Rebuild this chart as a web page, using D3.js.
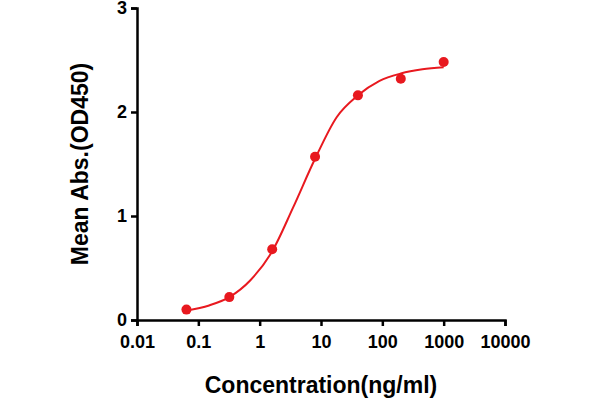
<!DOCTYPE html>
<html><head><meta charset="utf-8">
<script src="https://cdn.jsdelivr.net/npm/d3@7"></script>
<style>body{margin:0;background:#fff}</style></head>
<body><svg id="c" width="600" height="400"></svg>
<script>
const concentrations=[0.064,0.32,1.6,8,40,200,1000];
const absorbance=[0.10,0.22,0.68,1.57,2.16,2.32,2.48];
const curveX=[0.064,0.15,0.32,0.7,1.6,3.5,8,18,40,90,200,450,1000];
const curveY=[0.09,0.14,0.22,0.38,0.66,1.08,1.55,1.95,2.16,2.30,2.37,2.41,2.43];
const xTicks=[0.01,0.1,1,10,100,1000,10000];
const xTickLabels=["0.01","0.1","1","10","100","1000","10000"];
const yTicks=[0,1,2,3];
const svg=d3.select("#c");
const x=d3.scaleLog().domain([0.01,10000]).range([137,505]);
const y=d3.scaleLinear().domain([0,3]).range([320,8]);
const red="#e8191f";
const font="Liberation Sans, Arial, sans-serif";
const xa=svg.append("g").attr("transform","translate(0,320)")
 .call(d3.axisBottom(x).tickValues(xTicks).tickFormat((d,i)=>xTickLabels[i]).tickSize(6));
const ya=svg.append("g").attr("transform","translate(137,0)")
 .call(d3.axisLeft(y).tickValues(yTicks).tickFormat(d3.format("d")).tickSize(6));
[xa,ya].forEach(a=>{a.select(".domain").attr("stroke","#000").attr("stroke-width",2.5);
 a.selectAll(".tick line").attr("stroke","#000").attr("stroke-width",2.5);
 a.selectAll("text").attr("font-family",font).attr("font-size",18).attr("font-weight","bold").attr("fill","#000");});
xa.selectAll("text").attr("dy","1.05em");
ya.selectAll("text").attr("dx","-0.05em");
svg.append("path").datum(curveX.map((d,i)=>[d,curveY[i]]))
 .attr("d",d3.line().x(d=>x(d[0])).y(d=>y(d[1])).curve(d3.curveMonotoneX))
 .attr("fill","none").attr("stroke",red).attr("stroke-width",2);
svg.selectAll("circle").data(concentrations).enter().append("circle")
 .attr("cx",d=>x(d)).attr("cy",(d,i)=>y(absorbance[i])).attr("r",5).attr("fill",red);
svg.append("text").attr("x",321).attr("y",393).attr("text-anchor","middle")
 .attr("font-family",font).attr("font-weight","bold").attr("font-size",23).text("Concentration(ng/ml)");
svg.append("text").attr("transform","translate(88,164) rotate(-90)").attr("text-anchor","middle")
 .attr("font-family",font).attr("font-weight","bold").attr("font-size",23).text("Mean Abs.(OD450)");
</script></body></html>
